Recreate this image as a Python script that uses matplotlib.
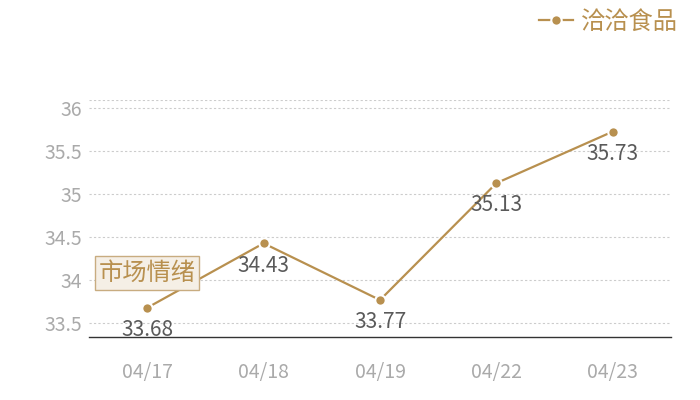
import matplotlib
matplotlib.use("Agg")
import matplotlib.pyplot as plt

dates = ["04/17", "04/18", "04/19", "04/22", "04/23"]
values = [33.68, 34.43, 33.77, 35.13, 35.73]
series_name = "洽洽食品"
annotation = "市场情绪"
yticks = [33.5, 34, 34.5, 35, 35.5, 36]

plt.rcParams['font.family'] = ['Noto Sans CJK SC', 'DejaVu Sans']

color = "#b8904f"
fig = plt.figure(figsize=(7, 4), dpi=100)
ax = fig.add_axes([89/700, 1 - 337/400, (671-89)/700, (337-100)/400])

x = list(range(len(dates)))
ax.plot(x, values, color=color, lw=1.6, marker='o', markersize=7.5,
        markerfacecolor=color, markeredgecolor='white', markeredgewidth=1.5,
        label=series_name, zorder=3)

for xi, v in zip(x, values):
    ax.annotate(f"{v:.2f}", (xi, v), xytext=(0, -16), textcoords='offset points',
                ha='center', va='center', fontsize=15, color='#5a5a5a')

ax.annotate(annotation, (0, values[0]), xytext=(0, 25), textcoords='offset points',
            ha='center', va='center', fontsize=17.5, color=color,
            bbox=dict(boxstyle='square,pad=0.15', fc='#f5efe6', ec='#c8ac80', lw=1))

ax.set_xlim(-0.5, len(dates) - 0.5)
ax.set_ylim(33.34, 36.097)
ax.set_xticks(x)
ax.set_xticklabels(dates)
ax.set_yticks(yticks)
ax.set_yticklabels([f"{t:g}" for t in yticks])
ax.tick_params(axis='both', length=0, colors='#aaaaaa', labelsize=14)
ax.tick_params(axis='x', pad=18)
ax.tick_params(axis='y', pad=5)
ax.grid(axis='y', color='#cccccc', ls=(0, (2, 2)), lw=0.8)
ax.axhline(36.097, color='#cccccc', ls=(0, (2, 2)), lw=0.8)
for s in ['left', 'right', 'top']:
    ax.spines[s].set_visible(False)
ax.spines['bottom'].set_color('#333333')
ax.spines['bottom'].set_linewidth(1)

leg = fig.legend(loc='upper right', bbox_to_anchor=(0.99, 1.015), frameon=False,
                 fontsize=17.5, handlelength=1.4, handletextpad=0.35, borderaxespad=0.2)
for t in leg.get_texts():
    t.set_color(color)

fig.savefig("out.png", dpi=100)
